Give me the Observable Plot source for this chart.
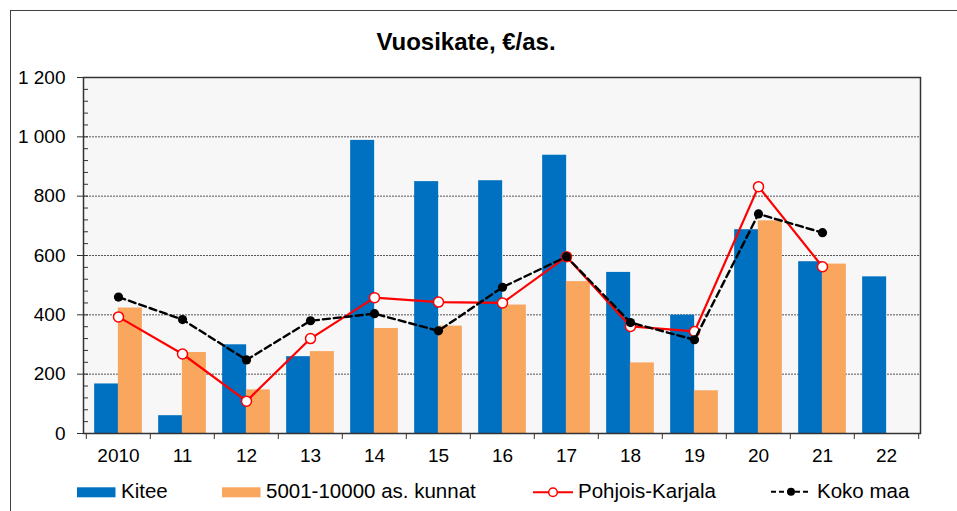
<!DOCTYPE html>
<html><head><meta charset="utf-8">
<script src="https://cdn.jsdelivr.net/npm/d3@7"></script>
<script src="https://cdn.jsdelivr.net/npm/@observablehq/plot@0.6"></script>
<style>
body{margin:0;background:#fff;font-family:"Liberation Sans",Arial,sans-serif;}
#wrap{position:relative;width:957px;height:511px;overflow:hidden;}
#frame{position:absolute;left:10px;top:10px;width:960px;height:520px;border-left:1.5px solid #404040;border-top:1.5px solid #404040;pointer-events:none;}
#title{height:62px;position:relative;}
#title span{position:absolute;left:466px;top:30px;transform:translateX(-50%);font-weight:bold;font-size:24px;line-height:24px;white-space:nowrap;color:#000;}
#chart{height:410px;}
#chart svg{display:block;}
#legend{position:relative;height:39px;}
#legend .sw{position:absolute;top:0;}
#legend .tx{position:absolute;top:6.5px;font-size:20.5px;line-height:24px;white-space:nowrap;color:#000;}
</style></head>
<body>
<div id="wrap">
  <div id="title"><span>Vuosikate, €/as.</span></div>
  <div id="chart"></div>
  <div id="legend"></div>
  <div id="frame"></div>
</div>
<script>
const years = ["2010","11","12","13","14","15","16","17","18","19","20","21","22"];
const kitee = [167, 60, 299, 259, 988, 849, 852, 938, 543, 399, 687, 579, 528];
const kunnat = [423, 273, 147, 276, 354, 362, 433, 512, 238, 144, 717, 571, null];
const pohjoisKarjala = [393, 268, 109, 320, 458, 443, 440, 596, 361, 344, 832, 562, null];
const kokoMaa = [460, 384, 248, 380, 404, 346, 493, 596, 374, 316, 740, 677, null];
const yTicks = [0, 200, 400, 600, 800, 1000, 1200];
const seriesNames = ["Kitee", "5001-10000 as. kunnat", "Pohjois-Karjala", "Koko maa"];

const colors = {kitee: "#0070C0", kunnat: "#F9A65E", pk: "#FF0000", koko: "#000000"};

const rows = years.map((y, i) => ({year: y, kitee: kitee[i], kunnat: kunnat[i], pk: pohjoisKarjala[i], koko: kokoMaa[i]}));

const W = 957, H = 410, mL = 83, mR = 37, mT = 15, mB = 39;
const step = (W - mL - mR) / years.length;
const pIn = 0.632;
const half = step * (1 - pIn) / 2;
const fmt = d => d3.format(",")(d).replace(/,/g, " ");

const chart = Plot.plot({
  width: W, height: H, marginLeft: mL, marginRight: mR, marginTop: mT, marginBottom: mB,
  style: {fontFamily: "'Liberation Sans', Arial, sans-serif", fontSize: "19px", color: "#000", background: "transparent", overflow: "visible"},
  x: {domain: years, paddingInner: pIn, paddingOuter: pIn / 2, label: null},
  y: {domain: [0, 1200], label: null},
  marks: [
    Plot.frame({fill: "#F7F7F7", stroke: null}),
    Plot.gridY(yTicks.filter(d => d > 0 && d < 1200), {stroke: "#444", strokeOpacity: 1, strokeWidth: 0.9, strokeDasharray: "2,1"}),
    Plot.barY(rows, {x: "year", y: "kitee", fill: colors.kitee, dx: -half}),
    Plot.barY(rows.filter(d => d.kunnat != null), {x: "year", y: "kunnat", fill: colors.kunnat, dx: half}),
    Plot.line(rows.filter(d => d.pk != null), {x: "year", y: "pk", stroke: colors.pk, strokeWidth: 2.2}),
    Plot.dot(rows.filter(d => d.pk != null), {x: "year", y: "pk", r: 5, fill: "#fff", stroke: colors.pk, strokeWidth: 1.5}),
    Plot.line(rows.filter(d => d.koko != null), {x: "year", y: "koko", stroke: colors.koko, strokeWidth: 2.4, strokeDasharray: "7,4"}),
    Plot.dot(rows.filter(d => d.koko != null), {x: "year", y: "koko", r: 4.6, fill: colors.koko}),
    Plot.ruleY(d3.range(0, 1201, 40), {y: d => d, stroke: "#333", strokeWidth: 1, insetRight: W - mL - mR - 5}),
    Plot.axisY({ticks: yTicks, tickSize: 6, tickPadding: 12, tickFormat: fmt, fontSize: 19, stroke: "#333"}),
    Plot.axisX({tickSize: 0, tickPadding: 15, fontSize: 19}),
    Plot.ruleX(years, {x: d => d, dx: -step / 2, y1: 0, y2: 0, insetBottom: -6, stroke: "#333"}),
    Plot.ruleX(years.slice(-1), {x: d => d, dx: step / 2, y1: 0, y2: 0, insetBottom: -6, stroke: "#333"}),
    Plot.frame({stroke: "#333", strokeWidth: 1.5})
  ]
});
document.getElementById("chart").appendChild(chart);

// legend
const lg = document.getElementById("legend");
const items = [
  {name: seriesNames[0], type: "bar", color: colors.kitee, sx: 77, tx: 121},
  {name: seriesNames[1], type: "bar", color: colors.kunnat, sx: 222, tx: 266},
  {name: seriesNames[2], type: "red", color: colors.pk, sx: 533, tx: 578},
  {name: seriesNames[3], type: "black", color: colors.koko, sx: 771, tx: 817}
];
items.forEach(it => {
  let svg;
  if (it.type === "bar") {
    svg = `<svg class="sw" style="left:${it.sx}px" width="40" height="30"><rect x="0" y="15.3" width="38.5" height="10" fill="${it.color}"/></svg>`;
  } else if (it.type === "red") {
    svg = `<svg class="sw" style="left:${it.sx}px" width="42" height="30"><line x1="0" x2="40" y1="20.3" y2="20.3" stroke="${it.color}" stroke-width="2"/><circle cx="20" cy="20.3" r="4.3" fill="#fff" stroke="${it.color}" stroke-width="1.5"/></svg>`;
  } else {
    svg = `<svg class="sw" style="left:${it.sx}px" width="42" height="30"><line x1="0" x2="40" y1="19.8" y2="19.8" stroke="${it.color}" stroke-width="2" stroke-dasharray="5,3"/><circle cx="20" cy="19.8" r="4" fill="${it.color}"/></svg>`;
  }
  lg.insertAdjacentHTML("beforeend", svg + `<span class="tx" style="left:${it.tx}px">${it.name}</span>`);
});
</script>
</body></html>
